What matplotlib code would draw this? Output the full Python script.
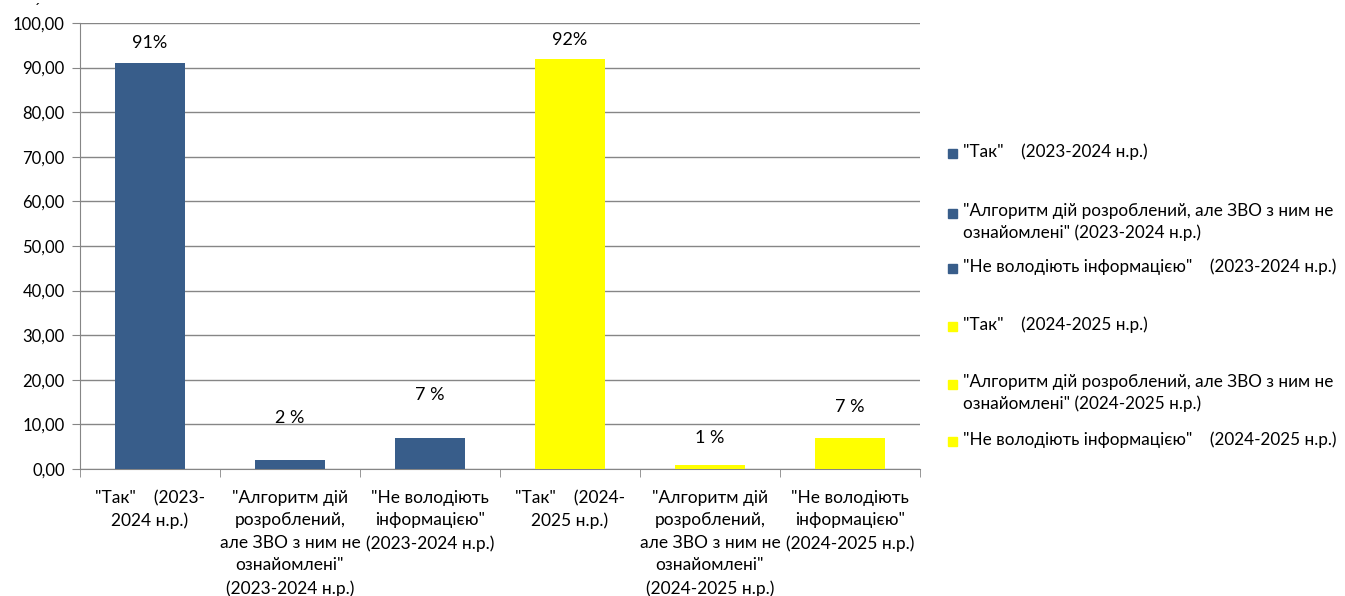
import matplotlib.pyplot as plt
from matplotlib.patches import Rectangle
from matplotlib.ticker import FixedLocator, FuncFormatter

plt.rcParams['font.family'] = ['Lato', 'DejaVu Sans']

''' data '''
categories = [
    '"Так"    (2023-\n2024 н.р.)',
    '"Алгоритм дій\nрозроблений,\nале ЗВО з ним не\nознайомлені"\n(2023-2024 н.р.)',
    '"Не володіють\nінформацією"\n(2023-2024 н.р.)',
    '"Так"    (2024-\n2025 н.р.)',
    '"Алгоритм дій\nрозроблений,\nале ЗВО з ним не\nознайомлені"\n(2024-2025 н.р.)',
    '"Не володіють\nінформацією"\n(2024-2025 н.р.)',
]
values = [91, 2, 7, 92, 1, 7]
value_labels = ['91%', '2 %', '7 %', '92%', '1 %', '7 %']
legend_labels = [
    '"Так"    (2023-2024 н.р.)',
    '"Алгоритм дій розроблений, але ЗВО з ним не\nознайомлені" (2023-2024 н.р.)',
    '"Не володіють інформацією"    (2023-2024 н.р.)',
    '"Так"    (2024-2025 н.р.)',
    '"Алгоритм дій розроблений, але ЗВО з ним не\nознайомлені" (2024-2025 н.р.)',
    '"Не володіють інформацією"    (2024-2025 н.р.)',
]

''' styles / layout '''
BLUE = '#385d8a'
YELLOW = '#ffff00'
colors = [BLUE, BLUE, BLUE, YELLOW, YELLOW, YELLOW]
label_y = [95.5, 11.4, 16.6, 96.2, 7.0, 13.9]   # data-label positions as placed in the source
legend_y = [153, 213, 268, 326, 384, 441]       # first-line centres, pixels from top

W, H = 1345, 596
fig = plt.figure(figsize=(W / 100, H / 100), dpi=100)
ax = fig.add_axes([80 / W, 1 - 469 / H, 840 / W, 446 / H])

x = list(range(len(values)))
ax.bar(x, values, width=0.5, color=colors, zorder=3)
for xi, ly, txt in zip(x, label_y, value_labels):
    ax.text(xi, ly, txt, ha='center', va='center', fontsize=13, zorder=4)

ax.set_xlim(-0.5, len(values) - 0.5)
ax.set_ylim(0, 100)
ax.yaxis.set_major_locator(FixedLocator(range(0, 101, 10)))
ax.yaxis.set_major_formatter(FuncFormatter(lambda v, p: f'{v:.2f}'.replace('.', ',')))
ax.grid(axis='y', color='#868686', linewidth=1, zorder=0)

ax.set_xticks(x)
ax.set_xticklabels(categories, fontsize=12.5, linespacing=1.5, va='top')
ax.set_xticks([i - 0.5 for i in range(len(values) + 1)], minor=True)
ax.tick_params(axis='x', which='major', length=0, pad=15)
ax.tick_params(axis='x', which='minor', length=6, color='#868686')
ax.tick_params(axis='y', length=6, color='#868686', labelsize=12, pad=5)

for s in ['top', 'right']:
    ax.spines[s].set_visible(False)
for s in ['left', 'bottom']:
    ax.spines[s].set_color('#868686')

''' legend drawn as excel lays it out '''
for lab, c, yy in zip(legend_labels, colors, legend_y):
    fig.patches.append(Rectangle((948 / W, 1 - (yy + 5) / H), 9 / W, 9 / H,
                                 transform=fig.transFigure, color=c))
    fig.text(963 / W, 1 - (yy - 10) / H, lab, ha='left', va='top',
             fontsize=12.3, linespacing=1.38)

fig.text(37 / W, 1 - 10 / H, '´', fontsize=11, ha='center', va='center')

fig.savefig('out.png', dpi=100)
